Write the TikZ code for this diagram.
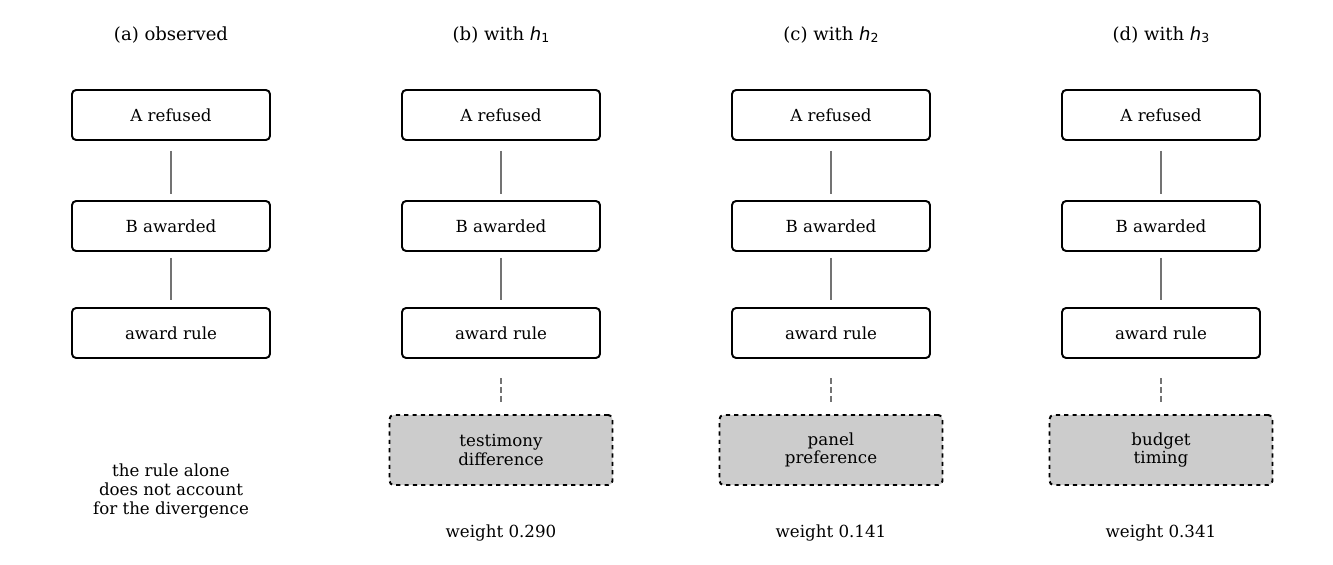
\documentclass[tikz,border=0pt]{standalone}
\usepackage{fontspec}
\setmainfont{DejaVu Serif}
\newfontfamily\dvsans{DejaVu Sans}
\begin{document}
\begin{tikzpicture}[x=0.72pt,y=-0.72pt,
  box/.style={draw,line width=1.4pt,rounded corners=3pt,minimum width=198*0.72pt,minimum height=50*0.72pt,inner sep=0pt,font=\fontsize{12}{14}\selectfont},
  hbox/.style={draw,line width=1.4pt,dashed,rounded corners=3pt,fill=black!20,minimum width=223*0.72pt,minimum height=70*0.72pt,inner sep=0pt,align=center,font=\fontsize{12}{13}\selectfont},
  conn/.style={draw=black!55,line width=1.4pt},
  dconn/.style={conn,dashed},
  ttl/.style={font=\fontsize{13}{15}\selectfont},
  lbl/.style={font=\fontsize{12}{14}\selectfont,align=center}]
\useasboundingbox (0,0) rectangle (1333,565);
\newcommand\hv[1]{{\dvsans\itshape h}{\dvsans\fontsize{9}{10}\selectfont\raisebox{-0.3ex}{#1}}}
\foreach \c/\t/\n in {171/{(a) observed}/a,501/{(b) with \hv{1}}/b,831/{(c) with \hv{2}}/c,1161/{(d) with \hv{3}}/d}{
  \node[ttl] (t\n) at (\c,35) {\t};
  \node[box] (r\n) at (\c,115) {A refused};
  \node[box] (w\n) at (\c,226) {B awarded};
  \node[box] (u\n) at (\c,333) {award rule};
  \draw[conn] ([yshift=-10*0.72pt]r\n.south) -- ([yshift=6*0.72pt]w\n.north);
  \draw[conn] ([yshift=-6*0.72pt]w\n.south) -- ([yshift=7*0.72pt]u\n.north);
}
\node[lbl] (note) at (171,491) {the rule alone\\does not account\\for the divergence};
\foreach \c/\t/\w/\n in {501/{testimony\\difference}/0.290/b,831/{panel\\preference}/0.141/c,1161/{budget\\timing}/0.341/d}{
  \node[hbox] (h\n) at (\c,450) {\t};
  \coordinate (s\n) at (\c,378);
  \coordinate (e\n) at (\c,403);
  \draw[dconn,dash pattern=on 6*0.72pt off 3*0.72pt] (s\n) -- (e\n);
  \node[lbl] (wt\n) at (\c,533) {weight \w};
}
\end{tikzpicture}
\end{document}
